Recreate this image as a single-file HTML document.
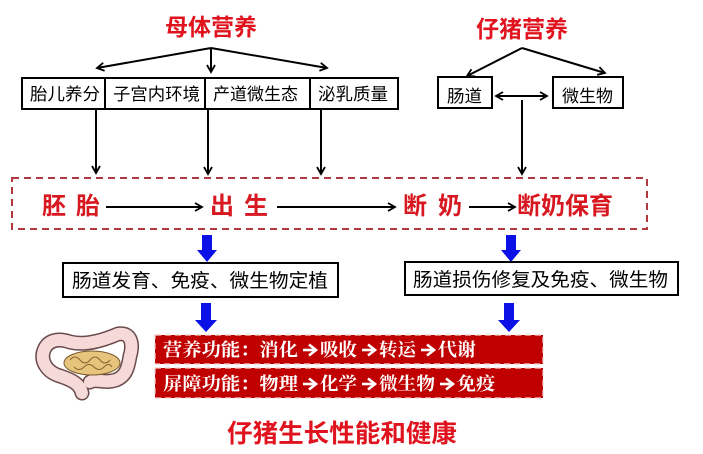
<!DOCTYPE html>
<html><head><meta charset="utf-8">
<style>
html,body{margin:0;padding:0;background:#fff;}
svg{display:block;}
text{font-family:"Liberation Sans","Noto Sans CJK SC",sans-serif;}
.serif{font-family:"Liberation Serif","Noto Serif CJK SC",serif;}
</style></head>
<body>
<svg width="703" height="454" viewBox="0 0 703 454" xmlns="http://www.w3.org/2000/svg">
<defs>
<marker id="ah" markerWidth="10" markerHeight="10" refX="8" refY="5" orient="auto" markerUnits="userSpaceOnUse">
<path d="M1,1 L8,5 L1,9" fill="none" stroke="#000" stroke-width="1.8"/>
</marker>
<marker id="ahs" markerWidth="10" markerHeight="10" refX="8" refY="5" orient="auto-start-reverse" markerUnits="userSpaceOnUse">
<path d="M1,1 L8,5 L1,9" fill="none" stroke="#000" stroke-width="1.8"/>
</marker>
<g id="warr">
<line x1="2" y1="0" x2="13" y2="0" stroke="#fff" stroke-width="2.6"/>
<path d="M8,-5.5 L15,0 L8,5.5" fill="none" stroke="#fff" stroke-width="2.6" stroke-linejoin="miter"/>
</g>
</defs>

<!-- Titles -->
<text x="211" y="35" font-size="23" font-weight="bold" fill="#e0141e" text-anchor="middle">母体营养</text>
<text x="522" y="37" font-size="23" font-weight="bold" fill="#e0141e" text-anchor="middle">仔猪营养</text>

<!-- Maternal arrows -->
<g stroke="#000" stroke-width="2" fill="none">
<line x1="211" y1="48" x2="97" y2="68" marker-end="url(#ah)"/>
<line x1="211" y1="48" x2="211" y2="72" marker-end="url(#ah)"/>
<line x1="211" y1="48" x2="327" y2="68" marker-end="url(#ah)"/>
</g>

<!-- Top row boxes -->
<rect x="22" y="78" width="376" height="31" fill="#fff" stroke="#000" stroke-width="2"/>
<g stroke="#000" stroke-width="2">
<line x1="105" y1="78" x2="105" y2="109"/>
<line x1="205" y1="78" x2="205" y2="109"/>
<line x1="310" y1="78" x2="310" y2="109"/>
</g>
<g font-size="17" fill="#000">
<text x="30" y="100" textLength="70" lengthAdjust="spacingAndGlyphs">胎儿养分</text>
<text x="113" y="100" textLength="87" lengthAdjust="spacingAndGlyphs">子宫内环境</text>
<text x="213" y="100" textLength="85" lengthAdjust="spacingAndGlyphs">产道微生态</text>
<text x="318" y="100" textLength="70" lengthAdjust="spacingAndGlyphs">泌乳质量</text>
</g>

<!-- Piglet nutrition -->
<g stroke="#000" stroke-width="2" fill="none">
<line x1="522" y1="48" x2="467" y2="76" marker-end="url(#ah)"/>
<line x1="522" y1="48" x2="605" y2="73" marker-end="url(#ah)"/>
<line x1="496" y1="96" x2="547" y2="96" marker-start="url(#ahs)" marker-end="url(#ah)"/>
</g>
<rect x="438" y="77" width="54" height="31" fill="#fff" stroke="#000" stroke-width="2"/>
<rect x="553" y="77" width="70" height="31" fill="#fff" stroke="#000" stroke-width="2"/>
<text x="447" y="102" font-size="17" textLength="35" lengthAdjust="spacingAndGlyphs">肠道</text>
<text x="562" y="102" font-size="17" textLength="51" lengthAdjust="spacingAndGlyphs">微生物</text>

<!-- vertical connectors -->
<g stroke="#000" stroke-width="2" fill="none">
<line x1="96" y1="110" x2="96" y2="173" marker-end="url(#ah)"/>
<line x1="208" y1="110" x2="208" y2="174" marker-end="url(#ah)"/>
<line x1="321" y1="110" x2="321" y2="174" marker-end="url(#ah)"/>
<line x1="522" y1="100" x2="522" y2="174" marker-end="url(#ah)"/>
</g>

<!-- dashed box -->
<rect x="12" y="178" width="635" height="51" fill="none" stroke="#b0383e" stroke-width="2" stroke-dasharray="7,5"/>

<g font-size="24" font-weight="bold" fill="#d81820">
<text x="42" y="214">胚</text><text x="76" y="214">胎</text>
<text x="210" y="214">出</text><text x="244" y="214">生</text>
<text x="403" y="214">断</text><text x="438" y="214">奶</text>
<text x="517" y="214" textLength="96" lengthAdjust="spacingAndGlyphs">断奶保育</text>
</g>
<g stroke="#000" stroke-width="2" fill="none">
<line x1="106" y1="207" x2="202" y2="207" marker-end="url(#ah)"/>
<line x1="277" y1="207" x2="395" y2="207" marker-end="url(#ah)"/>
<line x1="469" y1="207" x2="515" y2="207" marker-end="url(#ah)"/>
</g>

<!-- blue arrows -->
<g fill="#0a10e6">
<path d="M202,235 H212 V250 H217 L207,262 L197,250 H202 Z"/>
<path d="M506,235 H516 V250 H521 L511,262 L501,250 H506 Z"/>
<path d="M201,303 H211 V320 H217 L206,332 L195,320 H201 Z"/>
<path d="M504,303 H514 V320 H520 L509,332 L498,320 H504 Z"/>
</g>

<!-- middle boxes -->
<rect x="63" y="263" width="275" height="34" fill="#fff" stroke="#000" stroke-width="2"/>
<text x="72" y="287" font-size="19" textLength="256" lengthAdjust="spacingAndGlyphs">肠道发育、免疫、微生物定植</text>
<rect x="405" y="262" width="273" height="33" fill="#fff" stroke="#000" stroke-width="2"/>
<text x="413" y="286" font-size="19" textLength="255" lengthAdjust="spacingAndGlyphs">肠道损伤修复及免疫、微生物</text>

<!-- red function boxes -->
<rect x="155" y="335" width="388" height="29" fill="#c00000" stroke="#f0d0d0" stroke-width="1.2" stroke-dasharray="6,4"/>
<rect x="155" y="368" width="388" height="30" fill="#c00000" stroke="#f0d0d0" stroke-width="1.2" stroke-dasharray="6,4"/>
<g class="serif" font-size="18" font-weight="bold" fill="#fff">
<text class="serif" x="163" y="356" textLength="135" lengthAdjust="spacingAndGlyphs">营养功能：消化</text>
<text class="serif" x="320" y="356" textLength="37" lengthAdjust="spacingAndGlyphs">吸收</text>
<text class="serif" x="379" y="356" textLength="37" lengthAdjust="spacingAndGlyphs">转运</text>
<text class="serif" x="438" y="356" textLength="38" lengthAdjust="spacingAndGlyphs">代谢</text>
<text class="serif" x="163" y="390" textLength="135" lengthAdjust="spacingAndGlyphs">屏障功能：物理</text>
<text class="serif" x="320" y="390" textLength="37" lengthAdjust="spacingAndGlyphs">化学</text>
<text class="serif" x="379" y="390" textLength="56" lengthAdjust="spacingAndGlyphs">微生物</text>
<text class="serif" x="457" y="390" textLength="38" lengthAdjust="spacingAndGlyphs">免疫</text>
</g>
<use href="#warr" x="301" y="350"/>
<use href="#warr" x="360" y="350"/>
<use href="#warr" x="419" y="350"/>
<use href="#warr" x="301" y="384"/>
<use href="#warr" x="360" y="384"/>
<use href="#warr" x="438" y="384"/>

<!-- bottom title -->
<text x="227" y="442" font-size="25" font-weight="bold" fill="#e0141e" textLength="230" lengthAdjust="spacingAndGlyphs">仔猪生长性能和健康</text>

<!-- intestine illustration -->
<g>
<path d="M82,393 C80,384 72,380 60,376 C46,372 40,360 44,350 C48,340 58,338 70,342 C86,346 104,340 118,334 C130,332 134,342 130,356 C128,368 126,376 116,380 C104,384 96,378 90,382" fill="none" stroke="#6a4a4a" stroke-width="15" stroke-linecap="round" stroke-linejoin="round"/>
<path d="M82,393 C80,384 72,380 60,376 C46,372 40,360 44,350 C48,340 58,338 70,342 C86,346 104,340 118,334 C130,332 134,342 130,356 C128,368 126,376 116,380 C104,384 96,378 90,382" fill="none" stroke="#f6dada" stroke-width="12" stroke-linecap="round" stroke-linejoin="round"/>
<ellipse cx="92" cy="363" rx="28" ry="12" fill="#e6c47c" stroke="#7a5a30" stroke-width="1"/>
<path d="M70,360 q5,-6 10,0 t10,0 t10,0 t10,0 M74,367 q5,5 10,0 t10,0 t10,0 t8,0" fill="none" stroke="#8a6430" stroke-width="1"/>
</g>
</svg>
</body></html>
